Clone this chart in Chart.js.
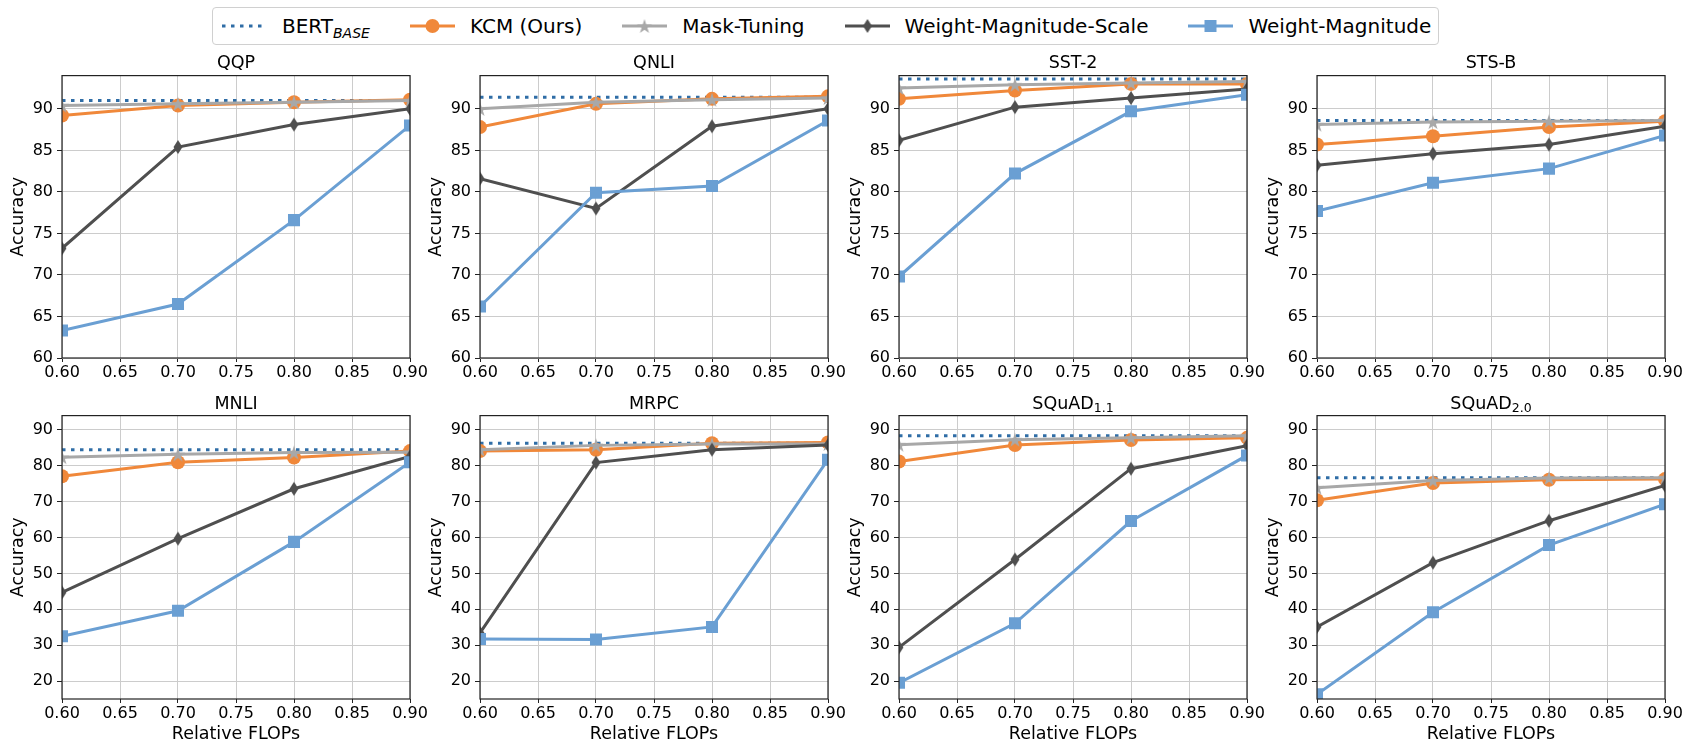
<!DOCTYPE html>
<html>
<head>
<meta charset="utf-8">
<script src="https://cdn.jsdelivr.net/npm/chart.js@4.4.1/dist/chart.umd.min.js"></script>
<style>
  body { margin: 0; width: 1687px; height: 746px; background: #fff; position: relative; overflow: hidden;
         font-family: 'DejaVu Sans', sans-serif; color: #000; }
  .plot { position: absolute; }
  .title { position: absolute; width: 348px; text-align: center; font-size: 17.5px; line-height: 20px; white-space: nowrap; }
  .title sub { font-size: 12.5px; line-height: 0; vertical-align: -3px; }
  #legend { position: absolute; left: 212px; top: 7px; height: 38px; box-sizing: border-box; padding-left: 9px; padding-right: 7px;
            border: 1px solid #d0d0d0; border-radius: 4px; background: #fff; display: flex; align-items: center;
            font-size: 20px; white-space: nowrap; }
  #legend .item { display: flex; align-items: center; margin-right: 40px; }
  #legend .item:last-child { margin-right: 0; }
  #legend canvas { margin-right: 15px; }
  #legend sub { font-size: 14px; font-style: italic; line-height: 0; vertical-align: -5px; }
</style>
</head>
<body>
<div id="legend"></div>
<script>
// relative FLOPs on the x axis
const flops = [0.6, 0.7, 0.8, 0.9];
const tasks = ['QQP', 'QNLI', 'SST-2', 'STS-B', 'MNLI', 'MRPC', 'SQuAD_1.1', 'SQuAD_2.0'];
const seriesNames = ['BERT_BASE', 'KCM (Ours)', 'Mask-Tuning', 'Weight-Magnitude-Scale', 'Weight-Magnitude'];

// accuracy, one row per task
const bertBase = [91.0, 91.4, 93.6, 88.6, 84.5, 86.3, 88.4, 76.7];
const kcm = [
  [89.2, 90.4, 90.8, 91.1], [87.8, 90.6, 91.2, 91.5], [91.2, 92.2, 93.0, 93.0], [85.7, 86.7, 87.8, 88.5],
  [77.1, 81.0, 82.3, 84.1], [84.1, 84.5, 86.3, 86.5], [81.2, 85.8, 87.2, 87.8], [70.4, 75.2, 76.1, 76.3]
];
const maskTuning = [
  [90.4, 90.6, 90.8, 91.0], [90.0, 90.8, 91.1, 91.3], [92.5, 92.9, 93.1, 93.3], [88.1, 88.4, 88.5, 88.6],
  [82.4, 83.2, 83.7, 83.8], [84.5, 85.7, 86.1, 86.1], [85.9, 87.3, 87.8, 88.4], [73.9, 75.9, 76.6, 76.7]
];
const weightMagScale = [
  [73.2, 85.4, 88.1, 90.0], [81.6, 78.0, 87.9, 90.0], [86.2, 90.2, 91.3, 92.4], [83.2, 84.6, 85.7, 87.9],
  [44.7, 59.7, 73.6, 82.6], [33.4, 80.9, 84.5, 85.8], [29.4, 53.9, 79.2, 85.6], [35.1, 53.0, 64.7, 74.5]
];
const weightMag = [
  [63.3, 66.5, 76.6, 88.0], [66.2, 79.9, 80.7, 88.6], [69.8, 82.2, 89.7, 91.7], [77.7, 81.1, 82.8, 86.8],
  [32.5, 39.6, 58.8, 81.0], [31.7, 31.6, 35.1, 81.7], [19.5, 36.1, 64.6, 82.9], [16.3, 39.2, 57.9, 69.3]
];

// y axis limits per task
const yMin = [60, 60, 60, 60, 15, 15, 15, 15];
const yMax = [94, 94, 94, 94, 94, 94, 94, 94];
const yStep = [5, 5, 5, 5, 10, 10, 10, 10];

const colors = ['#2f6da6', '#f0883a', '#a8a8a8', '#4f4f4f', '#6a9fd3'];

Chart.defaults.font.family = "'DejaVu Sans', sans-serif";
Chart.defaults.color = '#000';
Chart.defaults.animation = false;

function markerCanvas(style, color) {
    const c = document.createElement('canvas');
    c.width = style === 'diamond' ? 12 : 18;
    c.height = style === 'diamond' ? 16 : 18;
    const g = c.getContext('2d');
    g.fillStyle = color;
    g.beginPath();
    if (style === 'star') {
        for (let k = 0; k < 10; k++) {
            const r = k % 2 ? 7.8 * 0.382 : 7.8;
            const a = -Math.PI / 2 + k * Math.PI / 5;
            g.lineTo(9 + r * Math.cos(a), 9.8 + r * Math.sin(a));
        }
    } else {
        g.moveTo(6, 1); g.lineTo(10.5, 8); g.lineTo(6, 15); g.lineTo(1.5, 8);
    }
    g.closePath();
    g.fill();
    return c;
}

const starImg = markerCanvas('star', colors[2]);
const diamondImg = markerCanvas('diamond', colors[3]);

// draw the four spines over the lines, like matplotlib
const framePlugin = {
    id: 'frame',
    afterDatasetsDraw(chart) {
        const a = chart.chartArea, ctx = chart.ctx;
        ctx.save();
        ctx.strokeStyle = '#222';
        ctx.lineWidth = 1.2;
        ctx.strokeRect(a.left, a.top, a.right - a.left, a.bottom - a.top);
        ctx.restore();
    }
};

const plotLeft = [62, 480, 899, 1317];
const plotTop = [74, 414];
const plotH = [284, 285];
const plotW = 348;

function series(arr, i) {
    return flops.map((x, j) => ({ x: x, y: arr[i][j] }));
}

function makeTitle(name, left, top) {
    const d = document.createElement('div');
    d.className = 'title';
    d.style.left = left + 'px';
    d.style.top = top + 'px';
    const parts = name.split('_');
    d.textContent = parts[0];
    if (parts[1]) {
        const s = document.createElement('sub');
        s.textContent = parts[1];
        d.appendChild(s);
    }
    document.body.appendChild(d);
}

tasks.forEach((task, i) => {
    const row = Math.floor(i / 4), col = i % 4;
    const xh = row ? 46 : 26;
    const box = document.createElement('div');
    box.className = 'plot';
    box.style.left = (plotLeft[col] - 62) + 'px';
    box.style.top = (plotTop[row] - 12) + 'px';
    box.style.width = (62 + plotW + 22) + 'px';
    box.style.height = (12 + plotH[row] + xh) + 'px';
    const cv = document.createElement('canvas');
    box.appendChild(cv);
    document.body.appendChild(box);
    makeTitle(task, plotLeft[col], row ? 393 : 52);

    new Chart(cv, {
        type: 'line',
        data: {
            datasets: [{
                data: [{ x: flops[0], y: bertBase[i] }, { x: flops[flops.length - 1], y: bertBase[i] }],
                borderColor: colors[0], borderWidth: 3, borderDash: [3.5, 5.5],
                pointRadius: 0, order: 5, clip: 0
            },
            {
                data: series(kcm, i),
                borderColor: colors[1], backgroundColor: colors[1], borderWidth: 3,
                pointStyle: 'circle', pointRadius: 7, pointBorderWidth: 0, order: 4, clip: 0
            },
            {
                data: series(maskTuning, i),
                borderColor: colors[2], backgroundColor: colors[2], borderWidth: 3,
                pointStyle: starImg, pointRadius: 7, order: 3, clip: 0
            },
            {
                data: series(weightMagScale, i),
                borderColor: colors[3], backgroundColor: colors[3], borderWidth: 3,
                pointStyle: diamondImg, pointRadius: 7, order: 2, clip: 0
            },
            {
                data: series(weightMag, i),
                borderColor: colors[4], backgroundColor: colors[4], borderWidth: 3,
                pointStyle: 'rect', pointRadius: 8.5, pointBorderWidth: 0, order: 1, clip: 0
            }]
        },
        options: {
            responsive: true,
            maintainAspectRatio: false,
            events: [],
            layout: { padding: { top: 12, right: 22, left: 0, bottom: 0 } },
            plugins: { legend: { display: false }, tooltip: { enabled: false } },
            scales: {
                x: {
                    type: 'linear', min: 0.6, max: 0.9,
                    ticks: { stepSize: 0.05, callback: v => v.toFixed(2), font: { size: 16 }, color: '#000',
                             padding: 1, maxRotation: 0, autoSkip: false },
                    grid: { color: '#cccccc', lineWidth: 1, tickLength: 4, tickColor: '#222' },
                    border: { display: false },
                    title: { display: row === 1, text: 'Relative FLOPs', font: { size: 17.5 }, color: '#000',
                             padding: { top: 0, bottom: 0 } },
                    afterFit: s => { s.height = xh; }
                },
                y: {
                    min: yMin[i], max: yMax[i],
                    ticks: { stepSize: yStep[i], includeBounds: false, font: { size: 16 }, color: '#000', padding: 4 },
                    grid: { color: '#cccccc', lineWidth: 1, tickLength: 5, tickColor: '#222' },
                    border: { display: false },
                    title: { display: true, text: 'Accuracy', font: { size: 17.5 }, color: '#000',
                             padding: { top: 7.5, bottom: 0 } },
                    afterFit: s => { s.width = 62; }
                }
            }
        },
        plugins: [framePlugin]
    });
});

// legend
const legend = document.getElementById('legend');
seriesNames.forEach((name, k) => {
    const item = document.createElement('div');
    item.className = 'item';
    const c = document.createElement('canvas');
    c.width = 45; c.height = 22;
    const g = c.getContext('2d');
    g.strokeStyle = colors[k];
    g.lineWidth = 3;
    if (k === 0) g.setLineDash([3.5, 5.5]);
    g.beginPath(); g.moveTo(0, 11); g.lineTo(45, 11); g.stroke();
    g.setLineDash([]);
    g.fillStyle = colors[k];
    if (k === 1) { g.beginPath(); g.arc(22.5, 11, 7, 0, Math.PI * 2); g.fill(); }
    if (k === 2) g.drawImage(starImg, 13.5, 2);
    if (k === 3) g.drawImage(diamondImg, 16.5, 3);
    if (k === 4) g.fillRect(16.5, 5, 12, 12);
    item.appendChild(c);
    const t = document.createElement('span');
    const parts = name.split('_');
    t.textContent = parts[0];
    if (parts[1]) {
        const s = document.createElement('sub');
        s.textContent = parts[1];
        t.appendChild(s);
    }
    item.appendChild(t);
    legend.appendChild(item);
});
</script>
</body>
</html>
